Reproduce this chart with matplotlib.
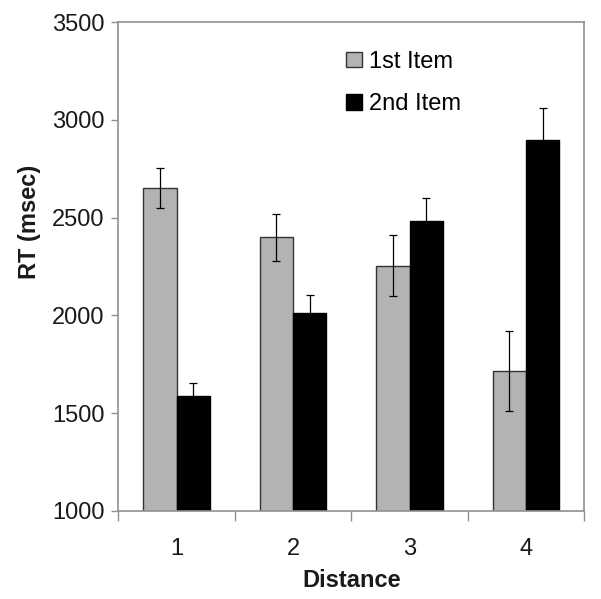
import numpy as np
import matplotlib.pyplot as plt

plt.rcParams['font.family'] = ['Liberation Sans', 'DejaVu Sans']

distance = [1, 2, 3, 4]
first_item = [2650, 2400, 2255, 1715]
first_err = [103, 120, 156, 203]
second_item = [1585, 2010, 2485, 2900]
second_err = [70, 92, 118, 160]

fig = plt.figure(figsize=(6.01, 5.99), dpi=100)
ax = fig.add_axes([0.197, 0.1474, 0.775, 0.8154])

x = np.arange(1, len(distance) + 1)
w = 0.286
ax.bar(x - w / 2, first_item, w, color='#b3b3b3', edgecolor='#333333',
       linewidth=1.0, label='1st Item', zorder=2)
ax.bar(x + w / 2, second_item, w, color='black', edgecolor='black',
       linewidth=1.0, label='2nd Item', zorder=2)
ax.errorbar(x - w / 2, first_item, yerr=first_err, fmt='none', ecolor='black',
            elinewidth=0.9, capsize=2.6, capthick=0.9, zorder=3)
ax.errorbar(x + w / 2, second_item, yerr=second_err, fmt='none', ecolor='black',
            elinewidth=0.9, capsize=2.6, capthick=0.9, zorder=3)

ax.set_xlim(0.5, len(distance) + 0.5)
ax.set_ylim(1000, 3500)
ax.set_yticks(np.arange(1000, 3501, 500))

# category boundaries as ticks, labels at centres
ax.set_xticks(np.arange(0.5, len(distance) + 1, 1))
ax.set_xticklabels([])
ax.set_xticks(x, minor=True)
ax.set_xticklabels([str(d) for d in distance], minor=True)
ax.tick_params(axis='x', which='major', length=7, color='#909090', width=1)
ax.tick_params(axis='x', which='minor', length=0, pad=20, labelsize=17,
               labelcolor='#1a1a1a')
ax.tick_params(axis='y', length=5, color='#909090', width=1, labelsize=17,
               pad=5, labelcolor='#1a1a1a')

for s in ax.spines.values():
    s.set_color('#909090')
    s.set_linewidth(1.2)

ax.set_xlabel('Distance', fontsize=17, fontweight='bold', labelpad=6,
              color='#1a1a1a')
ax.set_ylabel('RT (msec)', fontsize=17, fontweight='bold', color='#1a1a1a')
ax.yaxis.set_label_coords(-0.166, 0.591)

ax.legend(loc='upper left', bbox_to_anchor=(0.444, 0.985), frameon=False,
          fontsize=17, handlelength=0.65, handleheight=0.65, handletextpad=0.3,
          labelspacing=0.85)

fig.savefig('out.png', dpi=100)
